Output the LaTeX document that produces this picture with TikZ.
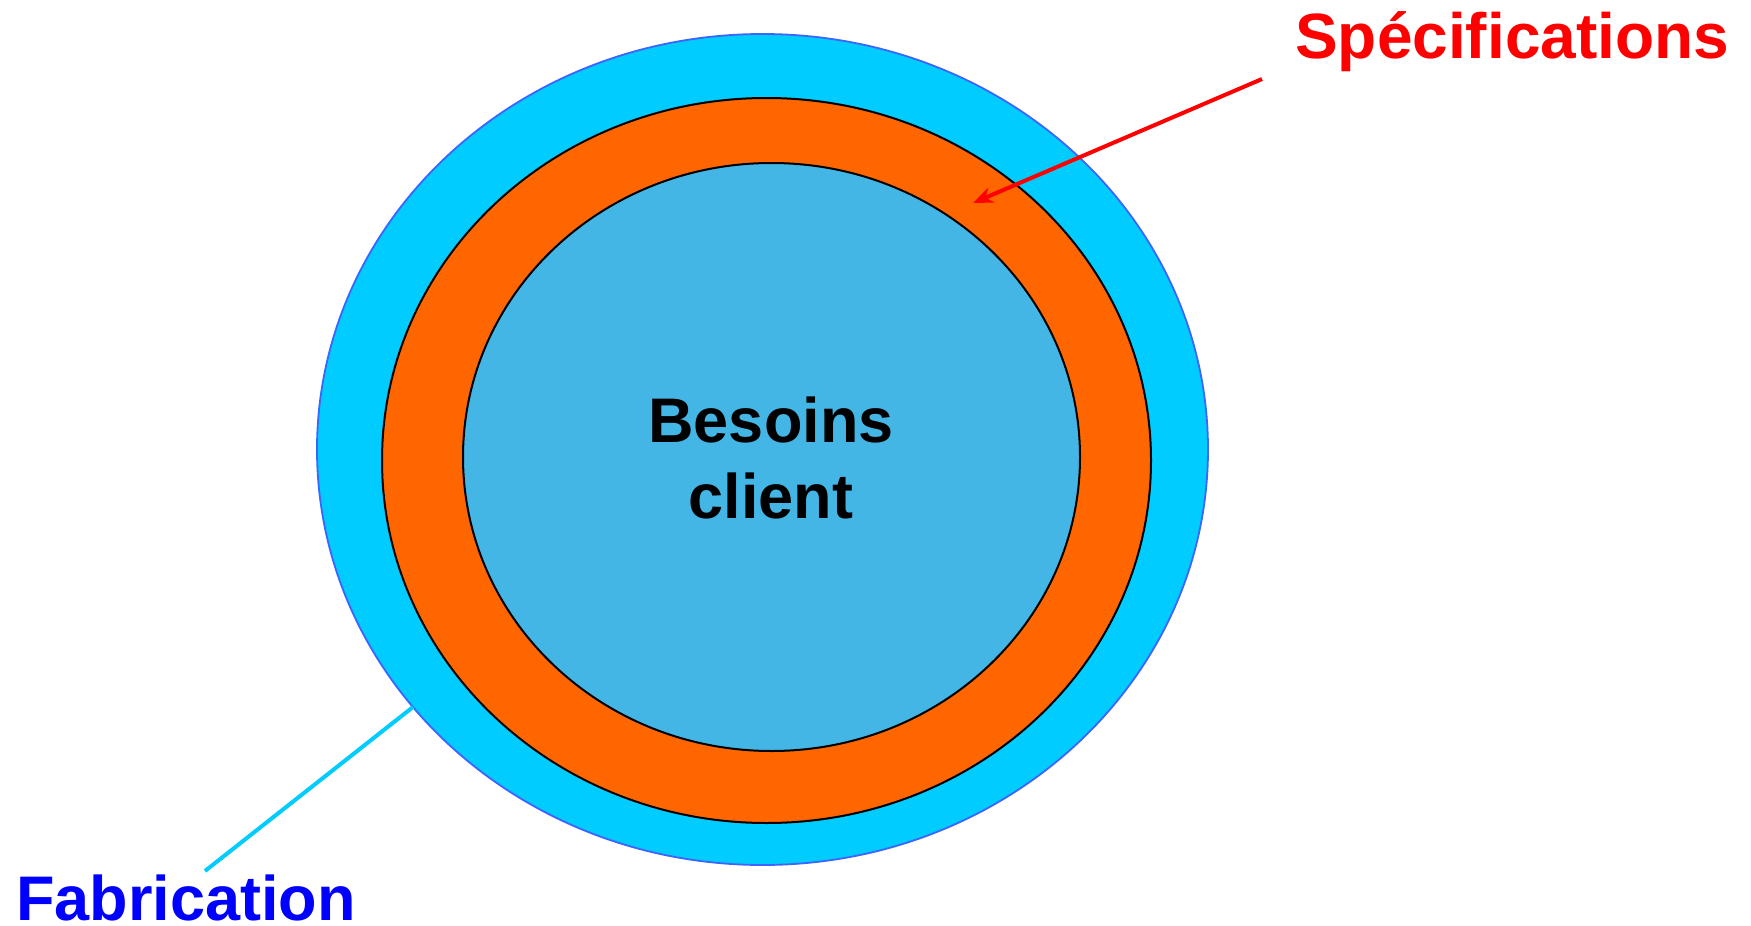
\documentclass[tikz,border=0pt]{standalone}
\usepackage{fontspec}
\setmainfont{Liberation Sans}
\usetikzlibrary{arrows.meta}
\definecolor{outerfill}{RGB}{0,204,255}
\definecolor{outerline}{RGB}{60,100,255}
\definecolor{orangefill}{RGB}{255,102,0}
\definecolor{innerfill}{RGB}{68,182,230}
\definecolor{specred}{RGB}{255,0,0}
\definecolor{fabblue}{RGB}{0,0,255}
\definecolor{fabline}{RGB}{0,204,255}
\tikzset{
  bigtext/.style={font=\fontsize{63}{76}\selectfont\bfseries, inner sep=0pt},
  ringline/.style={line width=2pt, draw=black},
}
\begin{document}
\begin{tikzpicture}[x=1pt,y=-1pt]
\useasboundingbox (0,0) rectangle (1751,926);
% outer ring
\draw[fill=outerfill, draw=outerline, line width=1.8pt] (762.5,449.5) ellipse [x radius=445.5pt, y radius=415.5pt];
% orange ring
\draw[fill=orangefill, ringline] (766.5,460.5) ellipse [x radius=384.5pt, y radius=362.5pt];
% inner
\draw[fill=innerfill, ringline] (771.5,457) ellipse [x radius=308.5pt, y radius=294pt];
% texts
\node[bigtext, align=center, text=black] (besoins) at (771,458) {Besoins\\client};
\node[bigtext, font=\fontsize{64}{76}\selectfont\bfseries, text=specred, anchor=base west] (spec) at (1295,58) {Spécifications};
\node[bigtext, text=fabblue, anchor=base west] (fab) at (16,920) {Fabrication};
% connectors
\coordinate (specstart) at (1262,79);
\coordinate (spectip) at (973,203);
\draw[specred, line width=4pt, -{Stealth[length=20pt,width=16pt]}] (specstart) -- (spectip);
\coordinate (fabstart) at (205,871);
\coordinate (fabend) at (413,707);
\draw[fabline, line width=4pt] (fabstart) -- (fabend);
\end{tikzpicture}
\end{document}
